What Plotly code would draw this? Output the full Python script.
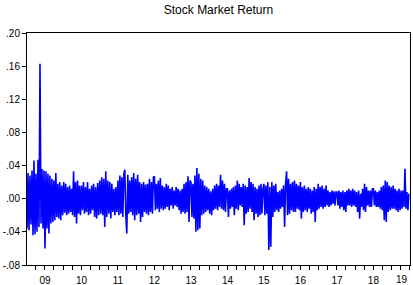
import pandas as pd
import plotly.graph_objects as go

# Daily stock market returns (envelope-level estimates per period)
r2008 = [-0.036, 0.031, -0.038, 0.028, -0.031, 0.034, -0.044, 0.046, -0.043, 0.030,
         -0.040, 0.047, -0.034, 0.163, -0.030, 0.036, -0.036, 0.034]
r2009 = [-0.060, 0.033, -0.036, 0.030, -0.042, 0.028, -0.030, 0.024, -0.028, 0.022,
         -0.026, 0.031, -0.022, 0.018, -0.024, 0.020, -0.026, 0.016, -0.020, 0.020,
         -0.017, 0.018, -0.020, 0.014, -0.018, 0.016, -0.016, 0.012, -0.020, 0.033,
         -0.022, 0.020, -0.030, 0.022, -0.018, 0.016, -0.020]
r2010 = [0.016, -0.014, 0.020, -0.018, 0.014, -0.016, 0.020, -0.020, 0.012, -0.018,
         0.016, -0.014, 0.018, -0.022, 0.014, -0.024, 0.019, -0.020, 0.022, -0.018,
         0.026, -0.020, 0.024, -0.034, 0.033, -0.022, 0.022, -0.018, 0.020, -0.024,
         0.018, -0.016, 0.012, -0.020, 0.014, -0.016]
r2011 = [0.022, -0.020, 0.028, -0.018, 0.026, -0.022, 0.030, 0.035, -0.020, -0.042,
         0.029, -0.018, 0.022, -0.016, 0.026, -0.020, 0.031, -0.026, 0.024, -0.020,
         0.029, -0.018, 0.020, -0.028, 0.018, -0.022, 0.020, -0.016, 0.017, -0.018,
         0.018, -0.020, 0.024, -0.016, 0.020, -0.018, 0.026]
r2012 = [0.027, -0.014, 0.018, -0.012, 0.022, -0.016, 0.025, -0.012, 0.016, -0.014,
         0.014, -0.012, 0.018, -0.010, 0.016, -0.014, 0.012, -0.008, 0.014, -0.012,
         0.010, -0.008, 0.014, -0.010, 0.012, -0.014, 0.010, -0.018, 0.012, -0.016,
         0.018, -0.018, 0.020, -0.016, 0.027, -0.028, 0.022]
r2013 = [0.020, -0.022, 0.018, -0.024, 0.028, -0.040, 0.037, -0.038, 0.030, -0.036,
         0.024, -0.020, 0.022, -0.018, 0.016, -0.016, 0.014, -0.014, 0.012, -0.018,
         0.009, -0.020, 0.012, -0.014, 0.016, -0.012, 0.018, -0.014, 0.016, -0.010,
         0.029, -0.012, 0.022, -0.014, 0.018, -0.016, 0.012]
r2014 = [0.012, -0.022, 0.010, -0.012, 0.012, -0.010, 0.014, -0.020, 0.016, -0.012,
         0.022, -0.014, 0.018, -0.008, 0.014, -0.010, 0.018, -0.032, 0.016, -0.018,
         0.014, -0.016, 0.025, -0.012, 0.020, -0.016, 0.018, -0.026, 0.014, -0.018,
         0.012, -0.022, 0.016, -0.020, 0.018, -0.018, 0.012]
r2015 = [0.018, -0.020, 0.016, -0.018, 0.020, -0.062, 0.014, -0.058, 0.020, -0.022,
         0.016, -0.016, 0.018, -0.014, 0.008, -0.016, 0.010, -0.012, 0.012, -0.010,
         0.016, -0.034, 0.018, 0.033, -0.020, 0.024, -0.018, 0.018, -0.014, 0.020,
         -0.016, 0.022, -0.016, 0.018, -0.012, 0.016, -0.014]
r2016 = [0.020, -0.024, 0.014, -0.016, 0.016, -0.014, 0.012, -0.016, 0.014, -0.012,
         0.012, -0.018, 0.010, -0.016, 0.014, -0.028, 0.012, -0.014, 0.018, -0.012,
         0.014, -0.010, 0.016, -0.012, 0.012, -0.010, 0.016, -0.008, 0.010, -0.010,
         0.008, -0.008, 0.010, -0.006, 0.009, -0.008, 0.008]
r2017 = [0.008, -0.008, 0.010, -0.012, 0.008, -0.010, 0.010, -0.014, 0.008, -0.016,
         0.010, -0.008, 0.012, -0.008, 0.010, -0.010, 0.012, -0.008, 0.010, -0.010,
         0.008, -0.016, 0.010, -0.024, 0.006, -0.010, 0.012, -0.014, 0.018, -0.016,
         0.014, -0.008, 0.010, -0.010, 0.010, -0.010, 0.012]
r2018 = [0.012, -0.008, 0.010, -0.010, 0.008, -0.010, 0.010, -0.012, 0.014, -0.014,
         0.016, -0.026, 0.022, -0.028, 0.020, -0.016, 0.016, -0.014, 0.014, -0.012,
         0.016, -0.012, 0.012, -0.014, 0.010, -0.016, 0.012, -0.014, 0.010, -0.012,
         0.010, -0.010, 0.036, -0.012, 0.008, -0.014, 0.006]

year_series = [
    ("2008-07-05", "2009-01-01", r2008),
    ("2009-01-01", "2010-01-01", r2009),
    ("2010-01-01", "2011-01-01", r2010),
    ("2011-01-01", "2012-01-01", r2011),
    ("2012-01-01", "2013-01-01", r2012),
    ("2013-01-01", "2014-01-01", r2013),
    ("2014-01-01", "2015-01-01", r2014),
    ("2015-01-01", "2016-01-01", r2015),
    ("2016-01-01", "2017-01-01", r2016),
    ("2017-01-01", "2018-01-01", r2017),
    ("2018-01-01", "2019-01-01", r2018),
]

y_tick_vals = [-0.08, -0.04, 0.00, 0.04, 0.08, 0.12, 0.16, 0.20]
y_tick_text = ["-.08", "-.04", ".00", ".04", ".08", ".12", ".16", ".20"]
x_tick_vals = [f"{y}-01-01" for y in range(2009, 2020)]
x_tick_text = ["09", "10", "11", "12", "13", "14", "15", "16", "17", "18", ""]
last_year_label = "19"

dates, values = [], []
for start, end, vals in year_series:
    d = pd.date_range(start, end, periods=len(vals) + 1)[:-1]
    dates.extend(d)
    values.extend(vals)

fig = go.Figure()
fig.add_trace(go.Scatter(x=dates, y=values, mode="lines",
                         line=dict(color="#0000FF", width=1.6, simplify=False),
                         hoverinfo="skip"))

font = "Liberation Sans, Arial, sans-serif"
fig.update_layout(
    width=413, height=285,
    margin=dict(l=27, r=3, t=33, b=20, autoexpand=False),
    paper_bgcolor="white", plot_bgcolor="white",
    showlegend=False,
    title=dict(text="Stock Market Return", x=0.529, xanchor="center",
               y=1 - 10 / 285, yanchor="middle", yref="container",
               font=dict(family=font, size=12, color="#000000")),
    font=dict(family=font, size=10, color="#000000"),
)
# the final year label sits just inside the right edge, as in the reference
fig.add_annotation(text=last_year_label, xref="paper", yref="paper",
                   x=1.0, y=0, xanchor="right", yanchor="middle",
                   xshift=-1, yshift=-14, showarrow=False, borderpad=0,
                   font=dict(family=font, size=10, color="#000000"))
fig.update_xaxes(
    range=["2008-07-05", "2019-01-02"], automargin=False,
    tickmode="array", tickvals=x_tick_vals, ticktext=x_tick_text,
    ticks="outside", ticklen=4, tickcolor="black", tickwidth=1,
    ticklabelstandoff=2,
    showline=True, linecolor="black", linewidth=1, mirror=True,
    showgrid=False, zeroline=False,
    minor=dict(dtick="M3", ticks="outside", ticklen=4, tickcolor="black", showgrid=False),
    tickfont=dict(family=font, size=10, color="#000000"),
)
fig.update_yaxes(
    range=[-0.08, 0.20], automargin=False,
    tickmode="array", tickvals=y_tick_vals, ticktext=y_tick_text,
    ticks="outside", ticklen=4, tickcolor="black", tickwidth=1,
    showline=True, linecolor="black", linewidth=1, mirror=True,
    showgrid=False, zeroline=False,
    tickfont=dict(family=font, size=10, color="#000000"),
)
fig.write_html("out.html")
